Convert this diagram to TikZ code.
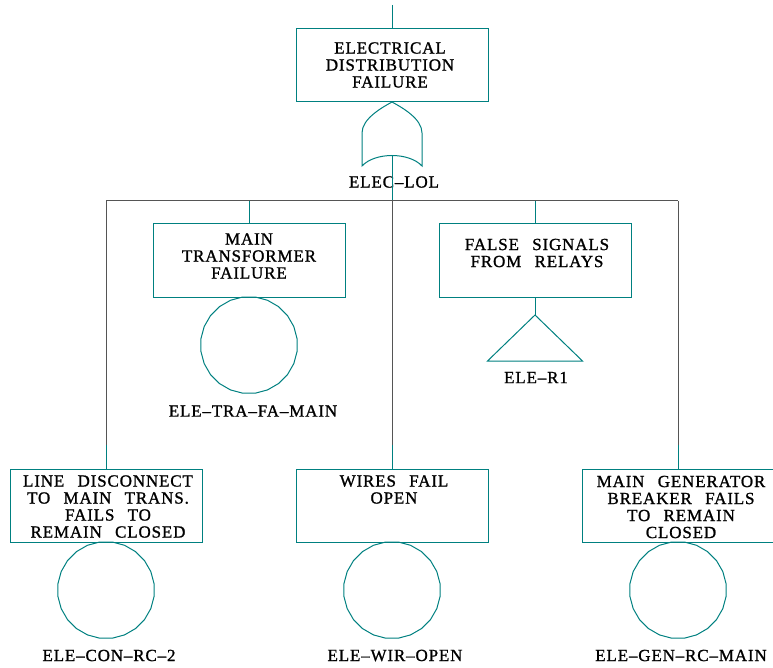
\documentclass[tikz,border=0pt]{standalone}
\usepackage{fontspec}
\usetikzlibrary{shapes.geometric}
\setmainfont{Liberation Serif}[LetterSpace=5, WordSpace=2.6, FakeBold=1.1]
\definecolor{tealc}{RGB}{0,128,128}
\definecolor{barc}{RGB}{85,85,85}
\begin{document}
\begin{tikzpicture}[x=1pt, y=-1pt, line width=1pt,
  every node/.style={inner sep=0pt, outer sep=0pt},
  evbox/.style={draw=tealc, rectangle, minimum width=192pt, minimum height=73pt},
  txt/.style={align=center, font=\fontsize{17}{17}\selectfont},
  basic/.style={draw=tealc, regular polygon, regular polygon sides=24,
    minimum size=97pt, anchor=north},
  tag/.style={font=\fontsize{17}{17}\selectfont},
  tealln/.style={draw=tealc},
  barln/.style={draw=barc}]
\clip (0,0) rectangle (773,668);

% top event
\node[evbox] (top) at (392,65.5) {};
\node[txt] (topT) at (390,65) {ELECTRICAL\\DISTRIBUTION\\FAILURE};
\coordinate (stub) at (392,5);
\draw[tealln] (stub) -- (top.north);

% OR gate below the top event
\coordinate (gtip) at (top.south);
\coordinate (gout) at (392,155.5);
\draw[tealln] (gtip) .. controls (381,108) and (362,119) .. (362,133)
  -- (362,166) .. controls (375,152) and (409,152) .. (422,166)
  -- (422,133) .. controls (422,119) and (403,108) .. (gtip);
\node[tag] (gl) at (394,182) {ELEC–LOL};

% branch bar
\coordinate (jl) at (106,201);
\coordinate (j1) at (249,201);
\coordinate (jm) at (392,201);
\coordinate (j2) at (535,201);
\coordinate (jr) at (678,201);
\draw[tealln] (gout) -- (jm);
\draw[barln] (jl) -- (jr);

% middle row
\node[evbox] (mt) at (249,260.5) {};
\node[txt] (mtT) at (249,256) {MAIN\\TRANSFORMER\\FAILURE};
\draw[tealln] (j1) -- (mt.north);
\node[basic] (mtc) at (mt.south) {};
\node[tag] (mtl) at (253,411) {ELE–TRA–FA–MAIN};

\node[evbox] (fs) at (535,260.5) {};
\node[txt] (fsT) at (537,253) {FALSE SIGNALS\\FROM RELAYS};
\draw[tealln] (j2) -- (fs.north);
\coordinate (tri) at (535,315);
\draw[tealln] (fs.south) -- (tri);
\draw[tealln] (tri) -- ++(47.5,46) -- ++(-95,0) -- cycle;
\node[tag] (fsl) at (536,377.5) {ELE–R1};

% bottom row
\coordinate (kl) at (106,445);
\coordinate (km) at (392,445);
\coordinate (kr) at (678,445);

\node[evbox] (lb) at (106,505.5) {};
\node[txt] (lbT) at (108,506.5) {LINE DISCONNECT\\TO MAIN TRANS.\\FAILS TO\\REMAIN CLOSED};
\draw[barln] (jl) -- (kl);
\draw[tealln] (kl) -- (lb.north);
\node[basic] (lbc) at (lb.south) {};
\node[tag] (lbl) at (109,655.5) {ELE–CON–RC–2};

\node[evbox] (mb) at (392,505.5) {};
\node[txt] (mbT) at (394,489.5) {WIRES FAIL\\OPEN};
\draw[barln] (jm) -- (km);
\draw[tealln] (km) -- (mb.north);
\node[basic] (mbc) at (mb.south) {};
\node[tag] (mbl) at (395,655.5) {ELE–WIR–OPEN};

\node[evbox] (rb) at (678,505.5) {};
\node[txt] (rbT) at (681,507) {MAIN GENERATOR\\BREAKER FAILS\\TO REMAIN\\CLOSED};
\draw[barln] (jr) -- (kr);
\draw[tealln] (kr) -- (rb.north);
\node[basic] (rbc) at (rb.south) {};
\node[tag] (rbl) at (681,655.5) {ELE–GEN–RC–MAIN};
\end{tikzpicture}
\end{document}
